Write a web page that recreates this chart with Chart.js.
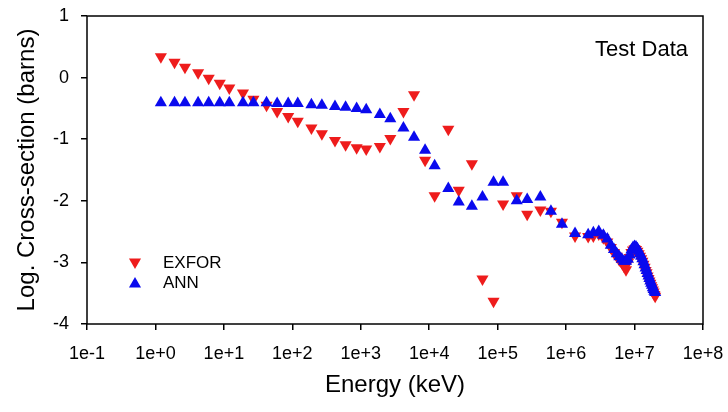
<!DOCTYPE html>
<html>
<head>
<meta charset="utf-8">
<script src="https://cdn.jsdelivr.net/npm/chart.js@4/dist/chart.umd.min.js"></script>
<style>
  body { margin: 0; background: #fff; }
  #wrap { width: 728px; height: 412px; }
</style>
</head>
<body>
<div id="wrap"><canvas id="chart" width="728" height="412"></canvas></div>
<script>
// energies in keV, shared by both series
const energy = [
    1.2, 1.9, 2.7, 4.2, 6, 8.7,
    12, 19, 27, 42, 60, 87,
    120, 190, 270, 420, 600, 870,
    1200, 1900, 2700, 4200, 6000, 8700,
    12000, 19000, 27000, 42000, 60000, 87000,
    120000, 190000, 270000, 420000, 600000, 870000,
    1350000, 2100000, 2500000,
    3000000, 3500000, 4000000, 4500000, 5000000, 5500000, 6000000,
    6500000, 7000000, 7500000, 8000000, 8500000, 9000000, 9500000,
    10000000, 10500000, 11000000, 11500000, 12000000, 12500000, 13000000,
    13500000, 14000000, 14500000, 15000000, 15500000, 16000000, 16500000,
    17000000, 17500000, 18000000, 18500000, 19000000, 19500000, 20000000
];

const exforValues = [
    0.34, 0.25, 0.17, 0.08, -0.01, -0.09,
    -0.17, -0.25, -0.35, -0.45, -0.55, -0.63,
    -0.71, -0.82, -0.91, -1.02, -1.09, -1.14,
    -1.16, -1.12, -0.99, -0.55, -0.28, -1.34,
    -1.92, -0.84, -1.83, -1.40, -3.27, -3.63,
    -2.05, -1.92, -2.22, -2.15, -2.17, -2.35,
    -2.57, -2.58, -2.57,
    -2.54, -2.60, -2.67, -2.76, -2.84, -2.90, -2.96,
    -3.00, -3.06, -3.12, -3.00, -2.92, -2.84, -2.80,
    -2.78, -2.79, -2.82, -2.86, -2.90, -2.94, -2.98,
    -3.03, -3.08, -3.13, -3.17, -3.22, -3.26, -3.30,
    -3.34, -3.38, -3.41, -3.45, -3.48, -3.52, -3.55
];

const annValues = [
    -0.41, -0.41, -0.41, -0.41, -0.41, -0.41,
    -0.41, -0.41, -0.41, -0.41, -0.42, -0.42,
    -0.42, -0.44, -0.45, -0.47, -0.48, -0.50,
    -0.52, -0.60, -0.67, -0.82, -0.97, -1.18,
    -1.43, -1.80, -2.02, -2.09, -1.94, -1.70,
    -1.70, -2.00, -1.98, -1.94, -2.17, -2.38,
    -2.53, -2.55, -2.52,
    -2.50, -2.56, -2.62, -2.72, -2.79, -2.86, -2.91,
    -2.95, -2.98, -2.98, -2.95, -2.88, -2.80, -2.76,
    -2.74, -2.75, -2.78, -2.82, -2.86, -2.90, -2.94,
    -2.99, -3.04, -3.09, -3.13, -3.18, -3.22, -3.26,
    -3.30, -3.34, -3.37, -3.41, -3.44, -3.47, -3.49
];

const xTickValues = [0.1, 1, 10, 100, 1000, 10000, 100000, 1000000, 10000000, 100000000];
const xTickLabels = ['1e-1', '1e+0', '1e+1', '1e+2', '1e+3', '1e+4', '1e+5', '1e+6', '1e+7', '1e+8'];
const yTickValues = [-4, -3, -2, -1, 0, 1];

const FONT = "'Liberation Sans', Arial, sans-serif";
const RED = '#ee1c1c';
const BLUE = '#0a0aee';

const toPoints = vals => energy.map((e, i) => ({ x: e, y: vals[i] }));

// box around plot, legend inside plot and the "Test Data" note
const extras = {
    id: 'extras',
    afterDraw(chart) {
        const ctx = chart.ctx;
        const a = chart.chartArea;
        ctx.save();
        ctx.strokeStyle = '#000';
        ctx.lineWidth = 1.5;
        ctx.strokeRect(a.left, a.top, a.right - a.left, a.bottom - a.top);

        ctx.font = '17px ' + FONT;
        ctx.textBaseline = 'middle';
        ctx.fillStyle = '#000';
        const items = [chart.data.datasets[1], chart.data.datasets[0]];
        items.forEach((ds, i) => {
            const y = 263 + i * 20;
            ctx.fillStyle = ds.backgroundColor;
            Chart.helpers.drawPoint(ctx, {
                pointStyle: 'triangle', rotation: ds.rotation, radius: 7, borderWidth: 0
            }, 135, y + (ds.rotation ? -1 : 1));
            ctx.fillStyle = '#000';
            ctx.fillText(ds.label, 163, y);
        });

        ctx.font = '22px ' + FONT;
        ctx.textAlign = 'right';
        ctx.fillText('Test Data', 688, 50);
        ctx.restore();
    }
};

const noEdgePadding = scale => {
    scale.paddingTop = 0;
    scale.paddingBottom = 0;
    scale.paddingLeft = 0;
    scale.paddingRight = 0;
};

new Chart(document.getElementById('chart'), {
    type: 'scatter',
    data: {
        datasets: [
            {
                label: 'ANN',
                data: toPoints(annValues),
                pointStyle: 'triangle',
                rotation: 0,
                pointRadius: 7,
                borderWidth: 0,
                backgroundColor: BLUE,
                order: 0
            },
            {
                label: 'EXFOR',
                data: toPoints(exforValues),
                pointStyle: 'triangle',
                rotation: 180,
                pointRadius: 7,
                borderWidth: 0,
                backgroundColor: RED,
                order: 1
            }
        ]
    },
    options: {
        responsive: false,
        animation: false,
        layout: { padding: { top: 16, right: 25, left: 0, bottom: 0 } },
        plugins: {
            legend: { display: false },
            tooltip: { enabled: false }
        },
        scales: {
            x: {
                type: 'logarithmic',
                min: 0.1,
                max: 100000000,
                afterBuildTicks: scale => { scale.ticks = xTickValues.map(v => ({ value: v })); },
                afterFit: scale => { scale.height = 88; noEdgePadding(scale); },
                border: { display: false },
                grid: { drawOnChartArea: false, drawTicks: true, tickLength: 6, color: '#000', lineWidth: 1.5 },
                ticks: {
                    color: '#000',
                    font: { family: FONT, size: 18 },
                    padding: 13,
                    autoSkip: false,
                    maxRotation: 0,
                    callback: (v, i) => xTickLabels[i]
                },
                title: {
                    display: true,
                    text: 'Energy (keV)',
                    color: '#000',
                    font: { family: FONT, size: 24 },
                    padding: { top: 0, bottom: 12 }
                }
            },
            y: {
                min: -4,
                max: 1,
                afterBuildTicks: scale => { scale.ticks = yTickValues.map(v => ({ value: v })); },
                afterFit: scale => { scale.width = 87; noEdgePadding(scale); },
                border: { display: false },
                grid: { drawOnChartArea: false, drawTicks: true, tickLength: 6, color: '#000', lineWidth: 1.5 },
                ticks: {
                    color: '#000',
                    font: { family: FONT, size: 18 },
                    padding: 12
                },
                title: {
                    display: true,
                    text: 'Log. Cross-section (barns)',
                    color: '#000',
                    font: { family: FONT, size: 24 },
                    padding: { top: 13, bottom: 0 }
                }
            }
        }
    },
    plugins: [extras]
});
</script>
</body>
</html>
